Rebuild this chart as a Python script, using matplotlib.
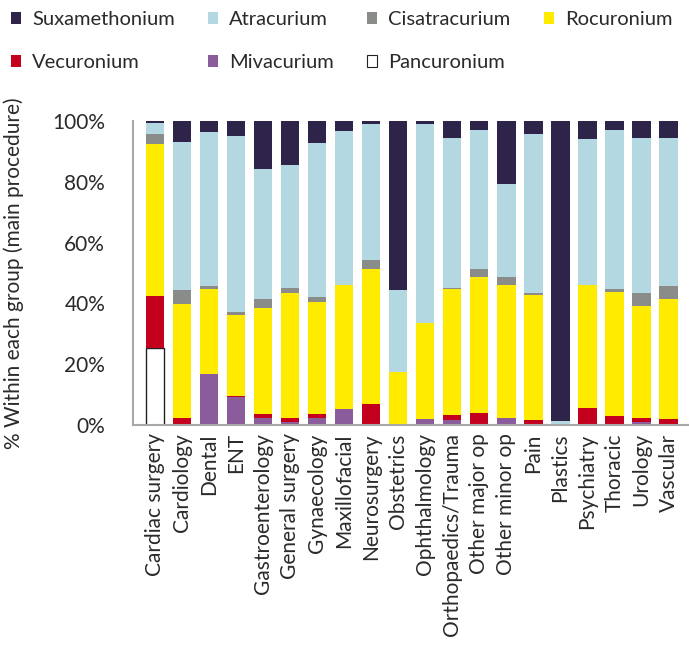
import matplotlib
matplotlib.use("Agg")
import matplotlib.pyplot as plt
import numpy as np
from matplotlib.patches import Patch

categories = ["Cardiac surgery", "Cardiology", "Dental", "ENT", "Gastroenterology",
              "General surgery", "Gynaecology", "Maxillofacial", "Neurosurgery",
              "Obstetrics", "Ophthalmology", "Orthopaedics/Trauma", "Other major op",
              "Other minor op", "Pain", "Plastics", "Psychiatry", "Thoracic",
              "Urology", "Vascular"]

pancuronium   = [25.2, 0, 0, 0, 0, 0, 0, 0, 0, 0, 0, 0, 0, 0, 0, 0, 0, 0, 0, 0]
mivacurium    = [0, 0, 16.9, 9.3, 2.4, 1.1, 2.4, 5.4, 0, 0, 2.1, 1.8, 0, 2.4, 0, 0, 0, 0, 1.1, 0]
vecuronium    = [17.3, 2.4, 0, 0.3, 1.3, 1.3, 1.3, 0, 7.0, 0, 0, 1.6, 4.1, 0, 1.8, 0, 5.7, 3.1, 1.3, 2.1]
rocuronium    = [50.0, 37.5, 27.9, 26.7, 34.9, 41.1, 36.8, 40.7, 44.4, 17.5, 31.5, 41.4, 44.6, 43.7, 41.0, 0, 40.4, 40.7, 36.8, 39.4]
cisatracurium = [3.2, 4.6, 1.0, 0.9, 2.9, 1.6, 1.7, 0, 2.9, 0, 0, 0.3, 2.7, 2.6, 0.7, 0, 0, 1.0, 4.3, 4.3]
atracurium    = [3.8, 48.6, 50.6, 57.9, 42.7, 40.4, 50.6, 50.6, 44.7, 27.0, 65.4, 49.3, 45.6, 30.6, 52.2, 1.4, 48.0, 52.2, 50.9, 48.6]
suxamethonium = [0.5, 6.9, 3.6, 4.9, 15.8, 14.5, 7.2, 3.3, 1.0, 55.5, 1.0, 5.6, 3.0, 20.7, 4.3, 98.6, 5.9, 3.0, 5.6, 5.6]

series = [
    ("Pancuronium", pancuronium, "#FFFFFF"),
    ("Mivacurium", mivacurium, "#8B5C9B"),
    ("Vecuronium", vecuronium, "#C4001F"),
    ("Rocuronium", rocuronium, "#FFEB00"),
    ("Cisatracurium", cisatracurium, "#8A8C8A"),
    ("Atracurium", atracurium, "#B3D8E2"),
    ("Suxamethonium", suxamethonium, "#2E2349"),
]

plt.rcParams['font.family'] = ['Lato', 'DejaVu Sans']
FS = 15
LFS = 14.5
TXT = "#2A2A2A"

fig = plt.figure(figsize=(6.89, 6.48), dpi=100)
ax = fig.add_axes([133/689, 1-425/648, 1-133/689, (425-121)/648])

x = np.arange(len(categories))
bottom = np.zeros(len(categories))
handles = {}
for name, vals, col in series:
    vals = np.array(vals, dtype=float)
    if name == "Pancuronium":
        ax.bar(x, vals, 0.67, bottom=bottom, color=col, edgecolor="#222222", linewidth=1.0)
        handles[name] = Patch(facecolor=col, edgecolor="#222222", linewidth=0.8, label=name)
    else:
        ax.bar(x, vals, 0.67, bottom=bottom, color=col, linewidth=0)
        handles[name] = Patch(facecolor=col, label=name)
    bottom += vals

ax.set_xlim(-0.83, len(categories) - 1 + 0.76)
ax.set_ylim(0, 100)
ax.set_yticks([0, 20, 40, 60, 80, 100])
ax.set_yticklabels(["0%", "20%", "40%", "60%", "80%", "100%"], fontsize=FS)
ax.set_xticks(x)
ax.set_xticklabels(categories, rotation=90, fontsize=FS)
ax.tick_params(axis='both', length=0, colors=TXT)
ax.tick_params(axis='y', pad=20)
ax.tick_params(axis='x', pad=6)
for s in ["top", "right"]:
    ax.spines[s].set_visible(False)
for s in ["left", "bottom"]:
    ax.spines[s].set_color("#A8A8A8")
    ax.spines[s].set_linewidth(1.5)
ax.set_ylabel("% Within each group (main procedure)", fontsize=FS, color=TXT, labelpad=20)

order = ["Suxamethonium", "Vecuronium", "Atracurium", "Mivacurium",
         "Cisatracurium", "Pancuronium", "Rocuronium"]
leg = fig.legend([handles[n] for n in order], order, ncol=4, loc="upper left",
                 bbox_to_anchor=(0.0, 1.0), frameon=False, fontsize=LFS,
                 handlelength=0.5, handleheight=0.5, handletextpad=0.55,
                 columnspacing=1.65, labelspacing=1.3, borderaxespad=0.0,
                 borderpad=0.55)
for t in leg.get_texts():
    t.set_color(TXT)

fig.savefig("out.png", dpi=100)
